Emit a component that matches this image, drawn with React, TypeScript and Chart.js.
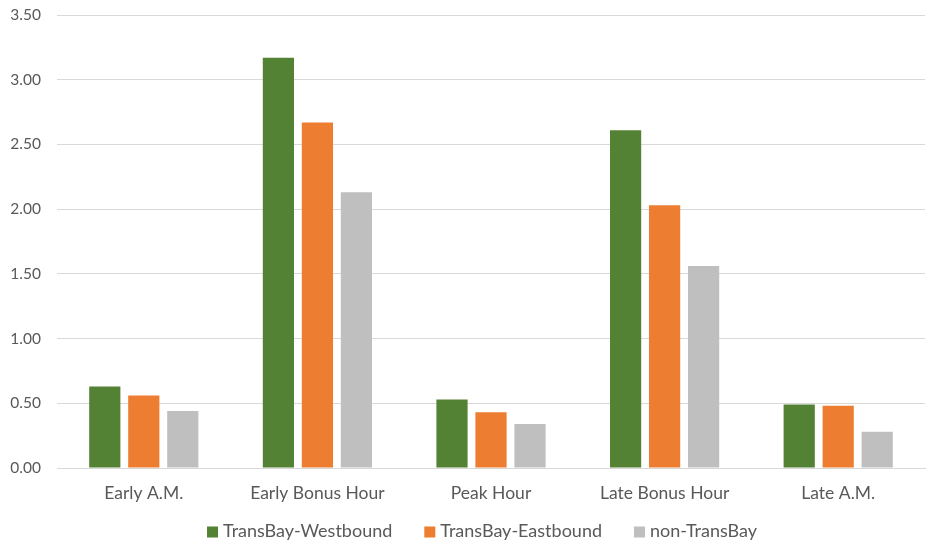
import React, { useEffect, useRef } from "react";
import { Chart, registerables } from "chart.js";

Chart.register(...registerables);

// Time periods along the horizontal axis
const periods = ["Early A.M.", "Early Bonus Hour", "Peak Hour", "Late Bonus Hour", "Late A.M."];

// Values per series
const westbound = [0.63, 3.17, 0.53, 2.61, 0.49];
const eastbound = [0.56, 2.67, 0.43, 2.03, 0.48];
const nonTransBay = [0.44, 2.13, 0.34, 1.56, 0.28];

const seriesNames = ["TransBay-Westbound", "TransBay-Eastbound", "non-TransBay"];
const seriesColors = ["#548235", "#ED7D31", "#BFBFBF"];

const FONT = "Lato, 'Open Sans', sans-serif";
const TEXT = "#595959";

// Legend drawn on the canvas below the axis: square swatch + label per series
const bottomLegend = {
  id: "bottomLegend",
  afterDraw(chart: any) {
    const ctx = chart.ctx as CanvasRenderingContext2D;
    const box = 11;
    const gapText = 5;
    const gapItem = 32;
    ctx.save();
    ctx.font = `18px ${FONT}`;
    ctx.textBaseline = "middle";
    const items = chart.data.datasets.map((d: any) => ({
      label: d.label as string,
      color: d.backgroundColor as string,
      w: ctx.measureText(d.label).width,
    }));
    const total =
      items.reduce((s: number, it: any) => s + box + gapText + it.w, 0) + gapItem * (items.length - 1);
    const cx = (chart.chartArea.left + chart.chartArea.right) / 2 - 9;
    const cy = chart.chartArea.bottom + 63;
    let x = cx - total / 2;
    items.forEach((it: any) => {
      ctx.fillStyle = it.color;
      ctx.fillRect(x, cy - box / 2 + 1, box, box);
      x += box + gapText;
      ctx.fillStyle = TEXT;
      ctx.fillText(it.label, x, cy);
      x += it.w + gapItem;
    });
    ctx.restore();
  },
};

export default function App() {
  const canvasRef = useRef<HTMLCanvasElement | null>(null);

  useEffect(() => {
    if (!canvasRef.current) return;
    const values = [westbound, eastbound, nonTransBay];
    const chart = new Chart(canvasRef.current, {
      type: "bar",
      data: {
        labels: periods,
        datasets: values.map((v, i) => ({
          label: seriesNames[i],
          data: v,
          backgroundColor: seriesColors[i],
          borderWidth: 0,
          categoryPercentage: 0.674,
          barPercentage: 0.8,
        })),
      },
      options: {
        animation: false,
        responsive: false,
        maintainAspectRatio: false,
        layout: { padding: { top: 15, right: 4, left: 0, bottom: 33 } },
        plugins: {
          tooltip: { enabled: false },
          legend: { display: false },
        },
        scales: {
          x: {
            grid: { display: false },
            border: { color: "#d9d9d9", width: 1 },
            ticks: { color: TEXT, font: { family: FONT, size: 17.5 }, padding: 7 },
            afterFit: (s: any) => {
              s.height = 40;
            },
          },
          y: {
            min: 0,
            max: 3.5,
            border: { display: false },
            grid: { color: "#d9d9d9", drawTicks: false },
            ticks: {
              stepSize: 0.5,
              color: TEXT,
              padding: 16,
              font: { family: FONT, size: 15.5 },
              callback: (v: any) => Number(v).toFixed(2),
            },
            afterFit: (s: any) => {
              s.width = 57;
              s.paddingTop = 0;
              s.paddingBottom = 0;
            },
          },
        },
      },
      plugins: [bottomLegend],
    });
    return () => chart.destroy();
  }, []);

  return (
    <div style={{ position: "fixed", left: 0, top: 0, width: 929, height: 541, background: "#fff" }}>
      <canvas ref={canvasRef} width={929} height={541} />
    </div>
  );
}
